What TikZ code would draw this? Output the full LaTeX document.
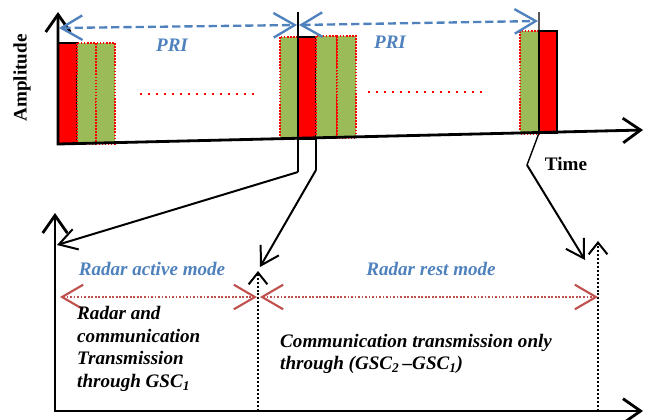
\documentclass[tikz,border=0pt]{standalone}
\usepackage{fontspec}
\setmainfont{Liberation Serif}
\usetikzlibrary{arrows.meta}
\definecolor{radarred}{HTML}{FF0000}
\definecolor{commgreen}{HTML}{9BBB59}
\definecolor{priblue}{HTML}{4F81BD}
\definecolor{modered}{HTML}{C0504D}

\begin{document}
\begin{tikzpicture}[x=0.03cm, y=-0.03cm,
    barb/.tip={Straight Barb[length=15pt,width=21pt]},
    modetip/.tip={Straight Barb[length=18pt,width=21pt]},
    dottip/.tip={Straight Barb[length=10pt,width=16pt]},
    axis/.style={line width=2.4pt},
    conn/.style={line width=1.7pt, -{Straight Barb[length=15pt,width=18pt]}},
    radarbox/.style={fill=radarred, draw=black, line width=1.9pt},
    commbox/.style={fill=commgreen, draw=red, line width=1.3pt, dash pattern=on 1.3pt off 1.3pt},
    pridim/.style={priblue, line width=2pt, dash pattern=on 7pt off 3.4pt, modetip-modetip},
    modedim/.style={modered, line width=1.8pt, dash pattern=on 1.5pt off 1.5pt, modetip-modetip},
    gap/.style={red, line width=1.8pt, dash pattern=on 1.8pt off 5pt},
    lab/.style={font=\bfseries\fontsize{16.3}{19.3}\selectfont, inner sep=0pt},
    bluelab/.style={priblue, font=\bfseries\itshape\fontsize{16.3}{19.3}\selectfont, inner sep=0pt},
    desc/.style={font=\bfseries\itshape\fontsize{16.3}{19.3}\selectfont, align=left, inner sep=0pt, anchor=west}]
  \useasboundingbox (0,0) rectangle (651,419);

  \draw [radarbox] (58,43) rectangle (77,144);
  \draw [commbox] (77,43) rectangle (96,144);
  \draw [commbox] (96,43) rectangle (115,144);

  \draw [commbox] (280,37) rectangle (298,139);
  \draw [radarbox] (298,37) rectangle (316,139);
  \draw [commbox] (316,36) rectangle (337,138);
  \draw [commbox] (337,36) rectangle (356,138);

  \draw [commbox] (520,31) rectangle (539,134);
  \draw [radarbox] (539,31) rectangle (557,133);

  \draw [gap] (140,94) -- (258,94);
  \draw [gap] (368,92) -- (486,92);

  \coordinate (ytop) at (58,12);
  \coordinate (orig) at (58,144);
  \coordinate (xend) at (643,130);
  \draw [axis, barb-barb] (ytop) -- (orig) -- (xend);

  \coordinate (mark1) at (298,12);
  \coordinate (tap1) at (298,172);
  \coordinate (top2) at (316,139);
  \coordinate (tap2) at (316,170);
  \coordinate (mark3) at (539,12);
  \coordinate (foot3) at (539,133);
  \coordinate (tap3) at (527,165);
  \draw [line width=1.2pt] (mark1) -- (tap1);
  \draw [line width=1.2pt] (top2) -- (tap2);
  \draw [line width=1.2pt] (mark3) -- (foot3) -- (tap3);

  \draw [pridim] (59,28) -- (297,25);
  \draw [pridim] (299,25) -- (538,21);
  \node [bluelab] (pri1) at (172,45) {PRI};
  \node [bluelab] (pri2) at (390,42) {PRI};

  \node [lab, rotate=90] (amp) at (22,78) {Amplitude};
  \node [lab] (time) at (566,164) {Time};

  \coordinate (ytop2) at (55,213);
  \coordinate (orig2) at (55,411);
  \coordinate (xend2) at (643,411);
  \draw [axis, barb-barb] (ytop2) -- (orig2) -- (xend2);

  \coordinate (act) at (57,245);
  \coordinate (sep) at (260,267);
  \coordinate (rest) at (585,260);
  \draw [conn] (tap1) -- (act);
  \draw [conn] (tap2) -- (sep);
  \draw [conn] (tap3) -- (rest);

  \coordinate (sepfoot) at (258,411);
  \coordinate (septop) at (258,271);
  \coordinate (endfoot) at (598,411);
  \coordinate (endtop) at (598,241);
  \draw [line width=1.7pt, dash pattern=on 1.7pt off 1.7pt, -dottip] (sepfoot) -- (septop);
  \draw [line width=1.7pt, dash pattern=on 1.7pt off 1.7pt, -dottip] (endfoot) -- (endtop);

  \coordinate (a1) at (60,297);
  \coordinate (a2) at (257,297);
  \coordinate (r1) at (260,297);
  \coordinate (r2) at (598,297);
  \draw [modedim] (a1) -- (a2);
  \draw [modedim] (r1) -- (r2);

  \node [bluelab] (active) at (152,269) {Radar active mode};
  \node [bluelab] (restlab) at (431,269) {Radar rest mode};

  \node [desc] (radcomm) at (77,349) {Radar and\\communication\\Transmission\\through GSC\textsubscript{1}};
  \node [desc] (commonly) at (280,354) {Communication transmission only\\through (GSC\textsubscript{2}\,--GSC\textsubscript{1})};
\end{tikzpicture}
\end{document}
